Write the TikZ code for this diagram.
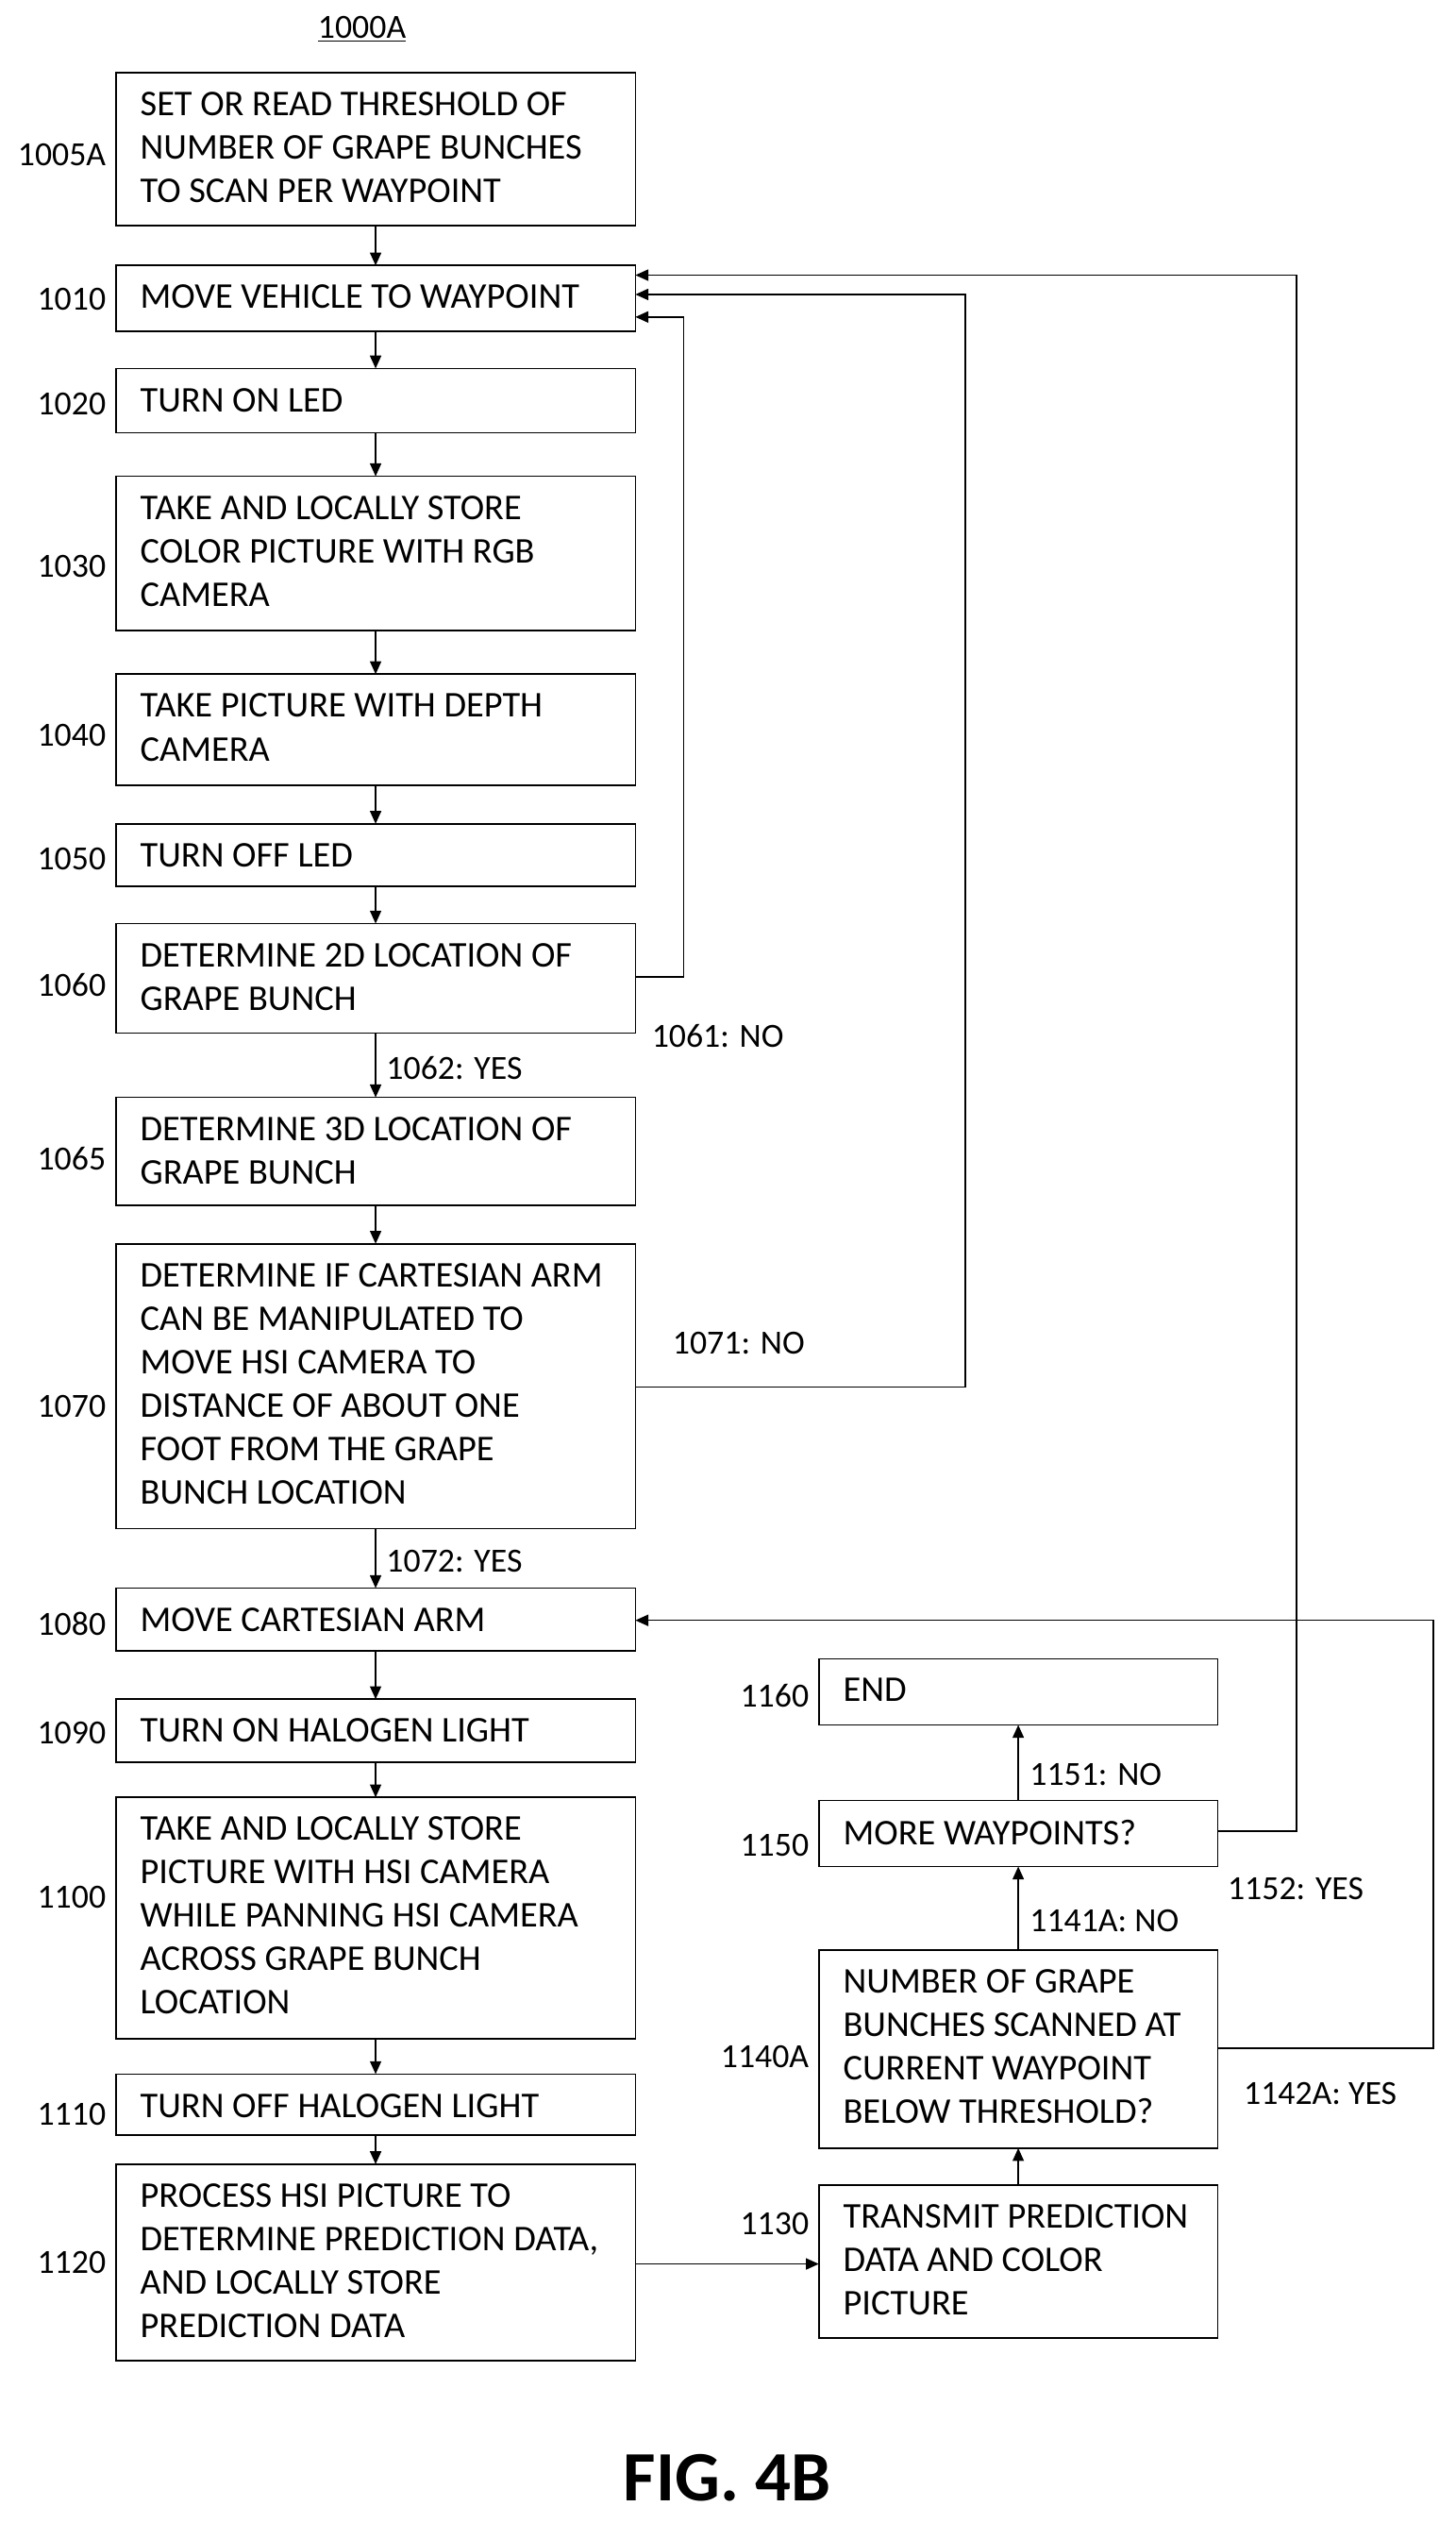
\documentclass[tikz,border=0pt]{standalone}
\usepackage{fontspec}
\setmainfont{Carlito}
\usetikzlibrary{arrows.meta}
\begin{document}
\begin{tikzpicture}[x=1pt,y=-1pt,
 box/.style={draw,line width=1pt,inner sep=0pt},
 txt/.style={anchor=north west,align=left,font=\fontsize{22.5}{27}\selectfont,inner sep=0pt},
 lab/.style={font=\fontsize{21}{24}\selectfont,inner sep=0pt},
 ar/.style={line width=0.9pt,-{Triangle[length=8pt,width=7pt]}},
 ln/.style={line width=0.9pt}]
\useasboundingbox (0,0) rectangle (905,1568);
\newcommand{\bx}[6]{%
 \draw[box] (#2,#3) rectangle (#4,#5);
 \coordinate (#1nw) at (#2,#3); \coordinate (#1se) at (#4,#5);
 \coordinate (#1n) at ({(#2+#4)/2},#3); \coordinate (#1s) at ({(#2+#4)/2},#5);
 \node[txt] (#1t) at ({#2+15},{#3+12}) {#6};}
\node[lab] (title) at (225,18) {\underline{1000A}};
\bx{a}{72}{45}{395}{140}{SET OR READ THRESHOLD OF\\NUMBER OF GRAPE BUNCHES\\TO SCAN PER WAYPOINT}
\bx{b}{72}{165}{395}{206}{MOVE VEHICLE TO WAYPOINT}
\bx{c}{72}{229}{395}{269}{TURN ON LED}
\bx{d}{72}{296}{395}{392}{TAKE AND LOCALLY STORE\\COLOR PICTURE WITH RGB\\CAMERA}
\bx{e}{72}{419}{395}{488}{TAKE PICTURE WITH DEPTH\\CAMERA}
\bx{f}{72}{512}{395}{551}{TURN OFF LED}
\bx{g}{72}{574}{395}{642}{DETERMINE 2D LOCATION OF\\GRAPE BUNCH}
\bx{h}{72}{682}{395}{749}{DETERMINE 3D LOCATION OF\\GRAPE BUNCH}
\bx{i}{72}{773}{395}{950}{DETERMINE IF CARTESIAN ARM\\CAN BE MANIPULATED TO\\MOVE HSI CAMERA TO\\DISTANCE OF ABOUT ONE\\FOOT FROM THE GRAPE\\BUNCH LOCATION}
\bx{j}{72}{987}{395}{1026}{MOVE CARTESIAN ARM}
\bx{k}{72}{1056}{395}{1095}{TURN ON HALOGEN LIGHT}
\bx{l}{72}{1117}{395}{1267}{TAKE AND LOCALLY STORE\\PICTURE WITH HSI CAMERA\\WHILE PANNING HSI CAMERA\\ACROSS GRAPE BUNCH\\LOCATION}
\bx{m}{72}{1289}{395}{1327}{TURN OFF HALOGEN LIGHT}
\bx{n}{72}{1345}{395}{1467}{PROCESS HSI PICTURE TO\\DETERMINE PREDICTION DATA,\\AND LOCALLY STORE\\PREDICTION DATA}
\bx{p}{509}{1031}{757}{1072}{END}
\bx{q}{509}{1119}{757}{1160}{MORE WAYPOINTS?}
\bx{r}{509}{1212}{757}{1335}{NUMBER OF GRAPE\\BUNCHES SCANNED AT\\CURRENT WAYPOINT\\BELOW THRESHOLD?}
\bx{s}{509}{1358}{757}{1453}{TRANSMIT PREDICTION\\DATA  AND COLOR\\PICTURE}
\foreach \t/\y in {1005A/96,1010/186,1020/251,1030/352,1040/457,1050/534,1060/612,1065/720,1070/874,1080/1009,1090/1077,1100/1179,1110/1314,1120/1406}
 \node[lab,anchor=east] (L\t) at (66,\y) {\t};
\foreach \t/\y in {1160/1054,1150/1147,1140A/1278,1130/1382}
 \node[lab,anchor=east] (L\t) at (503,\y) {\t};
\foreach \u/\v in {a/b,b/c,c/d,d/e,e/f,f/g,g/h,h/i,i/j,j/k,k/l,l/m,m/n}
 \draw[ar] (\u s) -- (\v n);
\draw[ar] (sn) -- (rs);
\draw[ar] (rn) -- (qs);
\draw[ar] (qn) -- (ps);
\coordinate (nE) at (395,1407); \coordinate (sW) at (509,1407);
\draw[ar] (nE) -- (sW);
\coordinate (g1) at (395,607); \coordinate (b1) at (395,197);
\draw[ar] (g1) -- (425,607) -- (425,197) -- (b1);
\coordinate (i1) at (395,862); \coordinate (b2) at (395,183);
\draw[ar] (i1) -- (600,862) -- (600,183) -- (b2);
\coordinate (q1) at (757,1138); \coordinate (b3) at (395,171);
\draw[ar] (q1) -- (806,1138) -- (806,171) -- (b3);
\coordinate (r1) at (757,1273); \coordinate (j1) at (395,1007);
\draw[ar] (r1) -- (891,1273) -- (891,1007) -- (j1);
\node[lab,anchor=west] (c1) at (405,644) {1061: NO};
\node[lab,anchor=west] (c2) at (418,835) {1071: NO};
\node[lab,anchor=west] (c3) at (240,664) {1062: YES};
\node[lab,anchor=west] (c4) at (240,970) {1072: YES};
\node[lab,anchor=west] (c5) at (640,1103) {1151: NO};
\node[lab,anchor=west] (c6) at (640,1194) {1141A: NO};
\node[lab,anchor=west] (c7) at (763,1174) {1152: YES};
\node[lab,anchor=west] (c8) at (773,1301) {1142A: YES};
\node[font=\fontsize{44}{48}\selectfont\bfseries,inner sep=0pt] (fig) at (452,1540) {FIG. 4B};
\end{tikzpicture}
\end{document}
